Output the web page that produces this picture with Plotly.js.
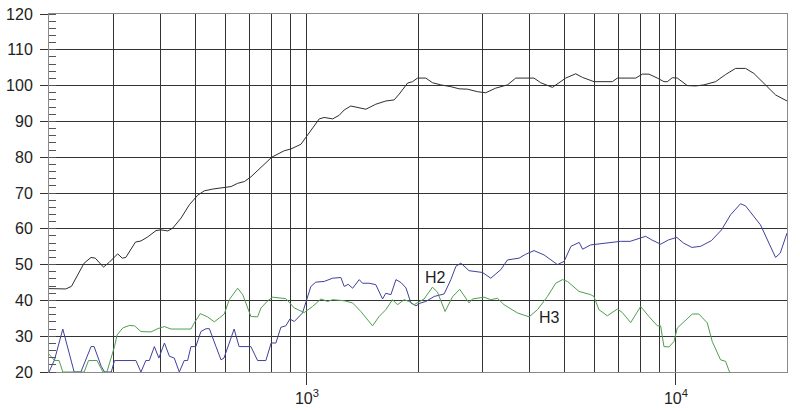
<!DOCTYPE html>
<html>
<head>
<meta charset="utf-8">
<script src="https://cdn.plot.ly/plotly-3.0.1.min.js"></script>
<style>html,body{margin:0;padding:0;background:#fff;}#chart{width:800px;height:411px;}</style>
</head>
<body>
<div id="chart"></div>
<script>
// Fundamental response (black)
const freqMain = [200,222,230,249,260,267,281,291,307,316,323,343,355,370,390,402,420,433,456,480,506,527,556,604,623,649,677,705,775,803,868,905,963,1004,1080,1114,1174,1223,1262,1315,1372,1445,1537,1636,1723,1778,1874,1933,1994,2100,2190,2306,2455,2585,2724,2900,3052,3249,3495,3681,4125,4301,4627,4775,5027,5351,5578,5998,6726,6939,7780,8110,8452,8906,9280,9478,9777,10088,10737,11308,11907,12812,13636,14511,15443,16264,17679,18621,20000];
const splMain = [43.3,43.2,43.9,50.4,52.0,51.8,49.3,50.6,53.0,51.8,52.0,56.3,56.6,57.7,59.5,59.7,59.4,60.2,63.0,66.7,69.4,70.6,71.1,71.6,71.8,72.7,73.2,74.5,78.6,80.0,81.8,82.3,83.6,86.2,90.7,91.1,90.7,91.7,93.2,94.3,93.8,93.4,94.8,95.7,96.0,97.6,100.7,101.1,102.1,102.1,100.8,100.2,99.7,99.1,99.0,98.3,98.0,99.3,100.2,102.1,102.1,100.8,99.5,100.5,102.1,103.3,102.3,101.1,101.1,102.1,102.1,103.2,103.2,102.1,101.1,101.1,102.2,102.1,100.0,99.9,100.2,101.1,103.1,104.8,104.8,103.4,99.7,97.4,95.7];

// H2 (blue)
const freqH2 = [200,207,218,234,244,260,265,277,283,295,301,344,355,366,374,386,397,411,424,437,451,465,475,485,500,516,533,544,567,585,596,635,655,705,735,774,800,824,850,877,899,924,973,1004,1025,1057,1114,1174,1236,1262,1294,1330,1386,1415,1474,1537,1603,1636,1689,1743,1798,1855,1913,1974,2036,2100,2212,2354,2455,2533,2613,2751,2991,3150,3354,3495,3757,3918,4125,4392,4775,4977,5194,5469,5586,5874,6252,6650,7083,7517,7834,8279,8600,9090,9547,10056,10489,11048,11664,12479,13292,14061,14965,15443,16950,17850,18621,19170,20000];
const splH2 = [20.0,23.4,32.0,20.0,20.0,27.1,27.1,21.6,20.0,20.0,23.2,23.2,20.0,23.2,23.2,27.1,23.9,28.1,24.4,23.9,20.0,23.2,23.2,27.1,27.1,31.3,32.1,32.1,27.1,23.4,23.9,32.0,27.1,27.1,23.2,23.2,28.1,28.1,32.5,32.9,34.8,34.1,36.5,40.6,43.9,45.1,45.3,46.2,46.4,43.9,44.5,43.4,45.8,44.8,44.8,44.4,40.4,42.0,41.6,45.8,45.0,43.5,39.3,38.5,39.3,39.7,41.1,41.8,45.8,49.5,50.4,48.3,47.8,46.2,48.6,51.3,51.8,52.9,53.9,52.7,50.0,50.9,55.1,56.2,54.3,55.5,55.8,56.0,56.5,56.5,57.1,57.9,56.9,55.7,56.9,57.6,56.0,54.8,55.1,56.7,59.7,63.9,67.0,66.4,61.1,56.0,52.0,53.2,58.8];

// H3 (green)
const freqH3 = [200,207,213,218,249,256,270,280,287,301,306,317,330,341,355,378,394,411,428,485,495,514,538,561,579,597,616,649,670,705,735,751,783,807,877,924,983,1036,1091,1138,1174,1262,1330,1400,1506,1569,1636,1706,1760,1834,1892,1952,2078,2189,2258,2368,2480,2595,2750,2809,3021,3149,3284,3421,3720,4000,4215,4486,4724,4926,5082,5463,5874,5994,6186,6518,6939,7159,7540,8025,8451,8905,9090,9279,9573,9876,10088,10511,11076,11541,12162,12546,13212,13630,13974];
const splH3 = [25.0,23.2,23.2,20.0,20.0,23.2,23.2,20.0,20.0,27.1,30.4,32.3,33.0,32.9,31.3,31.2,32.1,32.7,32.0,32.0,33.7,36.3,35.4,34.0,35.1,36.2,40.2,43.4,41.6,35.5,35.4,37.9,39.9,40.9,40.5,37.9,36.6,38.3,40.4,39.7,40.2,39.9,39.3,36.9,32.9,35.5,37.4,40.2,38.8,40.2,39.7,38.8,40.4,43.7,42.3,36.9,41.0,43.1,39.3,40.4,40.9,40.2,40.6,38.8,36.5,35.4,37.4,41.1,44.8,45.8,45.3,42.5,41.6,41.1,37.4,35.7,37.6,36.6,33.8,38.3,35.5,32.9,32.9,27.1,27.0,28.5,32.3,34.1,36.2,36.2,33.7,28.5,23.4,23.0,20.0];

// Axis ticks and labels
const xMajorVals = [1000, 10000];
const xMajorText = ['10<sup>3</sup>', '10<sup>4</sup>'];
const xGridVals = [200,300,400,500,600,700,800,900,2000,3000,4000,5000,6000,7000,8000,9000,20000];
const xRange = [200, 20000];
const yRange = [20, 120];

// Curve labels
const labelText = ['H2', 'H3'];
const labelFreq = [2236, 4550];
const labelSpl = [46.3, 35.2];

const gridColor = '#333333';
const traces = [
  {x: freqMain, y: splMain, mode: 'lines', line: {color: '#2e2e2e', width: 1}, hoverinfo: 'skip'},
  {x: freqH2, y: splH2, mode: 'lines', line: {color: '#40409c', width: 1}, hoverinfo: 'skip'},
  {x: freqH3, y: splH3, mode: 'lines', line: {color: '#4f9e4f', width: 1}, hoverinfo: 'skip'}
];

const annotations = labelText.map((t, i) => ({
  x: Math.log10(labelFreq[i]), y: labelSpl[i], xref: 'x', yref: 'y',
  text: t, showarrow: false, font: {family: 'Liberation Sans, Arial, sans-serif', size: 16, color: '#222'}
}));

const layout = {
  width: 800, height: 411,
  margin: {l: 49, r: 13, t: 14, b: 39},
  paper_bgcolor: '#fff', plot_bgcolor: '#fff',
  showlegend: false,
  font: {family: 'Liberation Sans, Arial, sans-serif', size: 16, color: '#222'},
  xaxis: {
    type: 'log', range: xRange.map(Math.log10),
    tickmode: 'array', tickvals: xMajorVals, ticktext: xMajorText,
    ticks: 'outside', ticklen: 12, tickcolor: gridColor, tickwidth: 1,
    showgrid: true, gridcolor: gridColor, gridwidth: 1,
    minor: {tickmode: 'array', tickvals: xGridVals, showgrid: true, gridcolor: gridColor, gridwidth: 1, ticks: ''},
    showline: true, linecolor: '#8a8a8a', linewidth: 1, mirror: true,
    zeroline: false, tickfont: {size: 16, color: '#222'}
  },
  yaxis: {
    range: yRange, dtick: 10, tick0: 0,
    ticks: 'outside', ticklen: 8, tickcolor: gridColor, tickwidth: 1,
    ticklabelstandoff: 4,
    showgrid: true, gridcolor: gridColor, gridwidth: 1,
    minor: {dtick: 2, ticks: 'inside', ticklen: 7, tickcolor: '#555', showgrid: false},
    showline: true, linecolor: '#8a8a8a', linewidth: 1, mirror: true,
    zeroline: false, tickfont: {size: 16, color: '#222'}
  },
  annotations: annotations
};

Plotly.newPlot('chart', traces, layout, {staticPlot: true, displayModeBar: false});
</script>
</body>
</html>
